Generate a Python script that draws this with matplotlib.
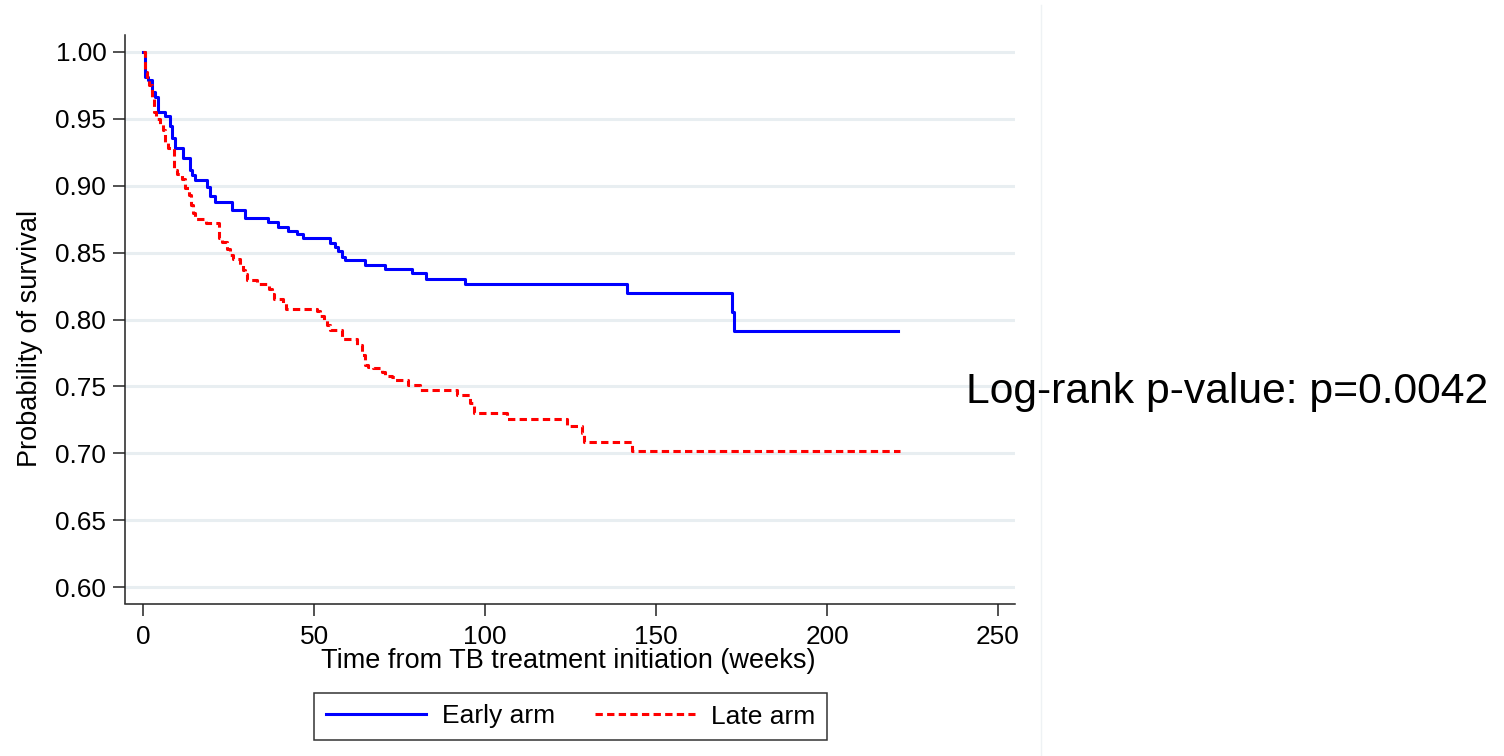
import matplotlib
matplotlib.use("Agg")
import matplotlib.pyplot as plt
import numpy as np

plt.rcParams["font.family"] = ["Liberation Sans", "DejaVu Sans"]

# Kaplan-Meier steps: (week of drop, survival after)
early_weeks = [0.58, 1.46, 2.54, 3.5, 4.47, 6.43, 7.9, 8.48, 9.36, 11.7,
               13.74, 14.3, 15.2, 18.7, 19.6, 21.05, 26.0, 29.8, 36.5, 39.5,
               42.4, 45.0, 46.8, 54.7, 56.1, 57.0, 58.2, 59.1, 64.9, 70.8,
               78.6, 82.7, 94.2, 141.4, 172.3, 172.8]
early_surv = [0.981, 0.979, 0.970, 0.966, 0.955, 0.952, 0.945, 0.936, 0.928,
              0.921, 0.912, 0.908, 0.904, 0.899, 0.892, 0.888, 0.882, 0.876,
              0.873, 0.869, 0.866, 0.864, 0.861, 0.857, 0.854, 0.851, 0.847,
              0.8445, 0.841, 0.8375, 0.8345, 0.830, 0.8265, 0.8195, 0.8054,
              0.7917]
early_end = 220.8

late_weeks = [0.6, 1.2, 1.8, 2.6, 3.2, 3.8, 5.0, 5.8, 6.4, 7.3, 9.1, 9.9,
              11.4, 12.3, 13.5, 14.0, 14.6, 15.2, 18.4, 22.2, 23.1, 24.6,
              25.4, 26.3, 28.4, 29.2, 29.8, 30.4, 33.3, 36.8, 37.7, 38.3,
              40.9, 41.8, 50.9, 51.8, 52.9, 53.8, 54.7, 58.2, 62.5, 63.9,
              64.9, 65.8, 67.3, 69.8, 70.8, 72.7, 73.7, 77.5, 81.0, 91.8,
              95.6, 96.8, 106.4, 124.0, 128.4, 128.9, 143.0]
late_surv = [0.985, 0.981, 0.975, 0.965, 0.955, 0.950, 0.946, 0.942, 0.932,
             0.928, 0.912, 0.909, 0.905, 0.898, 0.893, 0.886, 0.880, 0.875,
             0.8724, 0.861, 0.858, 0.853, 0.848, 0.845, 0.841, 0.837, 0.834,
             0.8295, 0.8265, 0.8225, 0.819, 0.8155, 0.8125, 0.808, 0.8065,
             0.803, 0.800, 0.796, 0.7922, 0.7854, 0.781, 0.7735, 0.766,
             0.7647, 0.7635, 0.761, 0.758, 0.7572, 0.7548, 0.751, 0.7473,
             0.7436, 0.7373, 0.7299, 0.7254, 0.7204, 0.715, 0.7087, 0.7019]
late_end = 221.3

x_ticks = [0, 50, 100, 150, 200, 250]
y_ticks = [0.60, 0.65, 0.70, 0.75, 0.80, 0.85, 0.90, 0.95, 1.00]
pvalue_text = "Log-rank p-value: p=0.0042"


def km_path(weeks, surv, end):
    t = np.concatenate([[0.0], weeks, [end]])
    s = np.concatenate([[1.0], surv, [surv[-1]]])
    return t, s


W, H = 1504, 756
fig = plt.figure(figsize=(W / 100, H / 100), dpi=100)
ax = fig.add_axes([125 / W, 1 - 603.5 / H, (1015 - 125) / W,
                   (603.5 - 35) / H])

grid_c = "#e8eef1"
for yv in y_ticks:
    ax.axhline(yv, color=grid_c, lw=2.2, zorder=0)

t, s = km_path(early_weeks, early_surv, early_end)
ax.plot(t, s, drawstyle="steps-post", color="#0000ff", lw=2.2,
        label="Early arm", zorder=3)
t, s = km_path(late_weeks, late_surv, late_end)
ax.plot(t, s, drawstyle="steps-post", color="#ff0000", lw=2.2,
        dashes=(2.4, 1.4), label="Late arm", zorder=4)

ax.set_xlim(-5.3, 255.0)
ax.set_ylim(0.5878, 1.0127)
ax.set_xticks(x_ticks)
ax.set_yticks(y_ticks)
ax.set_yticklabels([f"{v:.2f}" for v in y_ticks])
ax.tick_params(axis="both", direction="out", length=8.5, width=1.1,
               color="#222222", labelsize=18.8, pad=5)
ax.tick_params(axis="x", pad=7)
for side in ("top", "right"):
    ax.spines[side].set_visible(False)
for side in ("left", "bottom"):
    ax.spines[side].set_color("#222222")
    ax.spines[side].set_linewidth(1.1)

fig.text(568 / W, 1 - 661 / H, "Time from TB treatment initiation (weeks)",
         ha="center", va="center", fontsize=19.5)
fig.text(30 / W, 1 - 338 / H, "Probability of survival", rotation=90,
         ha="center", va="center", fontsize=19.5)

leg = fig.legend(loc="center", bbox_to_anchor=(570.5 / W, 1 - 716.5 / H),
                 ncol=2, fontsize=19, frameon=True, fancybox=False,
                 handlelength=3.8, handletextpad=0.6, columnspacing=1.5,
                 borderpad=0.45, edgecolor="black")
leg.get_frame().set_linewidth(1.1)

fig.text(966 / W, 1 - 403 / H, pvalue_text, ha="left", va="baseline",
         fontsize=30.7)

fig.add_artist(plt.Line2D([1041 / W, 1041 / W], [0, 1 - 5 / H],
                          color="#eef2f4", lw=1.0))

fig.savefig("out.png", dpi=100, facecolor="white")
